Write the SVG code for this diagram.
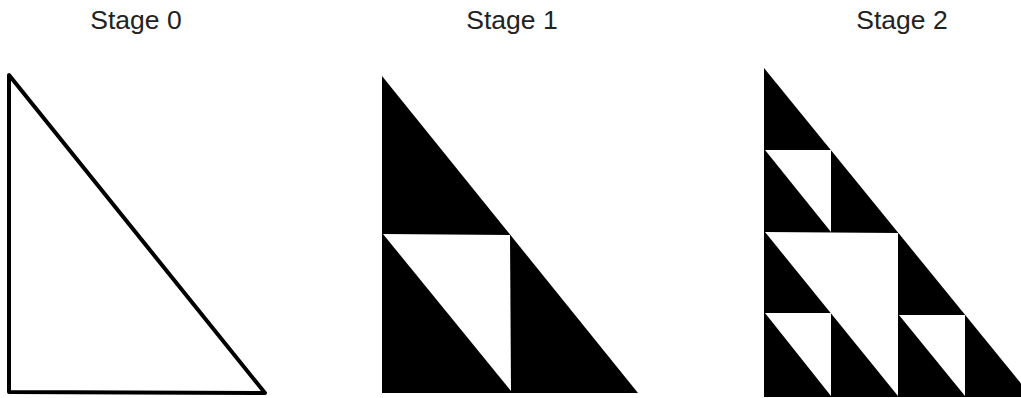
<svg xmlns="http://www.w3.org/2000/svg" width="1021" height="398" viewBox="0 0 1021 398">
<style>
.lbl{font-family:"Liberation Sans",Arial,sans-serif;font-size:26.5px;fill:#222;text-anchor:middle}
.blk{fill:#000}
.wht{fill:#fff}
</style>
<rect width="1021" height="398" fill="#fff"/>
<g id="stage0">
<text class="lbl" x="136" y="29">Stage 0</text>
<polygon points="9,75 9,392 265,393" fill="#fff" stroke="#000" stroke-width="4" stroke-linejoin="round"/>
</g>
<g id="stage1">
<text class="lbl" x="512" y="29">Stage 1</text>
<polygon class="blk" points="382,76 382,393 638,393"/>
<polygon class="wht" points="383,234 510,235 511,391"/>
</g>
<g id="stage2">
<text class="lbl" x="902" y="29">Stage 2</text>
<polygon class="blk" points="764,68 764,397 1032,397"/>
<polygon class="wht" points="765,232 898,233 898,396"/>
<polygon class="wht" points="765,150 831,150 831,232"/>
<polygon class="wht" points="765,313 831,313 831,396"/>
<polygon class="wht" points="899,315 965,315 965,396"/>
</g>
</svg>
